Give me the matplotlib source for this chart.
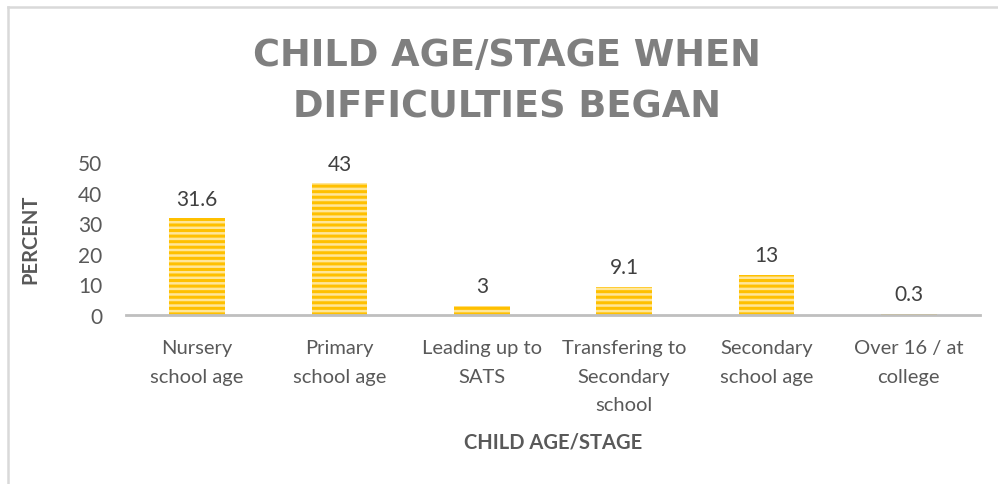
import matplotlib
matplotlib.use('Agg')
import matplotlib.pyplot as plt
from matplotlib.lines import Line2D

plt.rcParams['font.family'] = ['Lato', 'DejaVu Sans']
plt.rcParams['hatch.linewidth'] = 2.2
plt.rcParams['hatch.color'] = '#FFC000'

# Data
categories = ['Nursery\nschool age', 'Primary\nschool age', 'Leading up to\nSATS',
              'Transfering to\nSecondary\nschool', 'Secondary\nschool age', 'Over 16 / at\ncollege']
percent = [31.6, 43, 3, 9.1, 13, 0.3]
value_labels = ['31.6', '43', '3', '9.1', '13', '0.3']

W, H = 998, 485
fig = plt.figure(figsize=(W / 100, H / 100), dpi=100)
fig.patch.set_facecolor('white')

# outer chart frame (left and top edges visible)
fig.add_artist(Line2D([8 / W, 8 / W], [0, 1 - 8 / H], color='#D9D9D9', lw=1.8, transform=fig.transFigure))
fig.add_artist(Line2D([8 / W, 1], [1 - 8 / H, 1 - 8 / H], color='#D9D9D9', lw=1.8, transform=fig.transFigure))

ax = fig.add_axes([126 / W, 169 / H, 854 / W, 153 / H])
x = range(len(categories))
bars = ax.bar(x, percent, width=0.39, color='#FFE699', edgecolor='#FFC000',
              linewidth=0, hatch='---', zorder=2)

for xi, v, lab in zip(x, percent, value_labels):
    ax.annotate(lab, (xi, v), xytext=(0, 7), textcoords='offset points',
                ha='center', va='bottom', fontsize=15, color='#404040')

ax.set_xlim(-0.5, len(categories) - 0.5)
ax.set_ylim(0, 50)
ax.set_yticks([0, 10, 20, 30, 40, 50])
ax.set_xticks(list(x))
ax.set_xticklabels(categories, fontsize=14.5, color='#595959', linespacing=1.85)
ax.tick_params(axis='y', length=0, pad=17, labelsize=15, labelcolor='#595959')
ax.tick_params(axis='x', length=0, pad=17)

for s in ['top', 'right', 'left']:
    ax.spines[s].set_visible(False)
ax.spines['bottom'].set_color('#BFBFBF')
ax.spines['bottom'].set_linewidth(2)

ax.set_xlabel('CHILD AGE/STAGE', fontsize=14.5, fontweight='bold', color='#595959')
ax.set_ylabel('PERCENT', fontsize=14.5, fontweight='bold', color='#595959')
ax.xaxis.set_label_coords(0.5, (316 - 443) / 153, transform=ax.transAxes)
ax.xaxis.label.set_va('center')
ax.yaxis.set_label_coords((30 - 126) / 854, 0.5, transform=ax.transAxes)
ax.yaxis.label.set_va('center')

fig.text(507 / W, 1 - 81 / H, 'CHILD AGE/STAGE WHEN\nDIFFICULTIES BEGAN', ha='center', va='center',
         fontsize=26.5, fontweight='bold', color='#7F7F7F', linespacing=1.5, family='DejaVu Sans')

fig.savefig('out.png', dpi=100, facecolor='white')
